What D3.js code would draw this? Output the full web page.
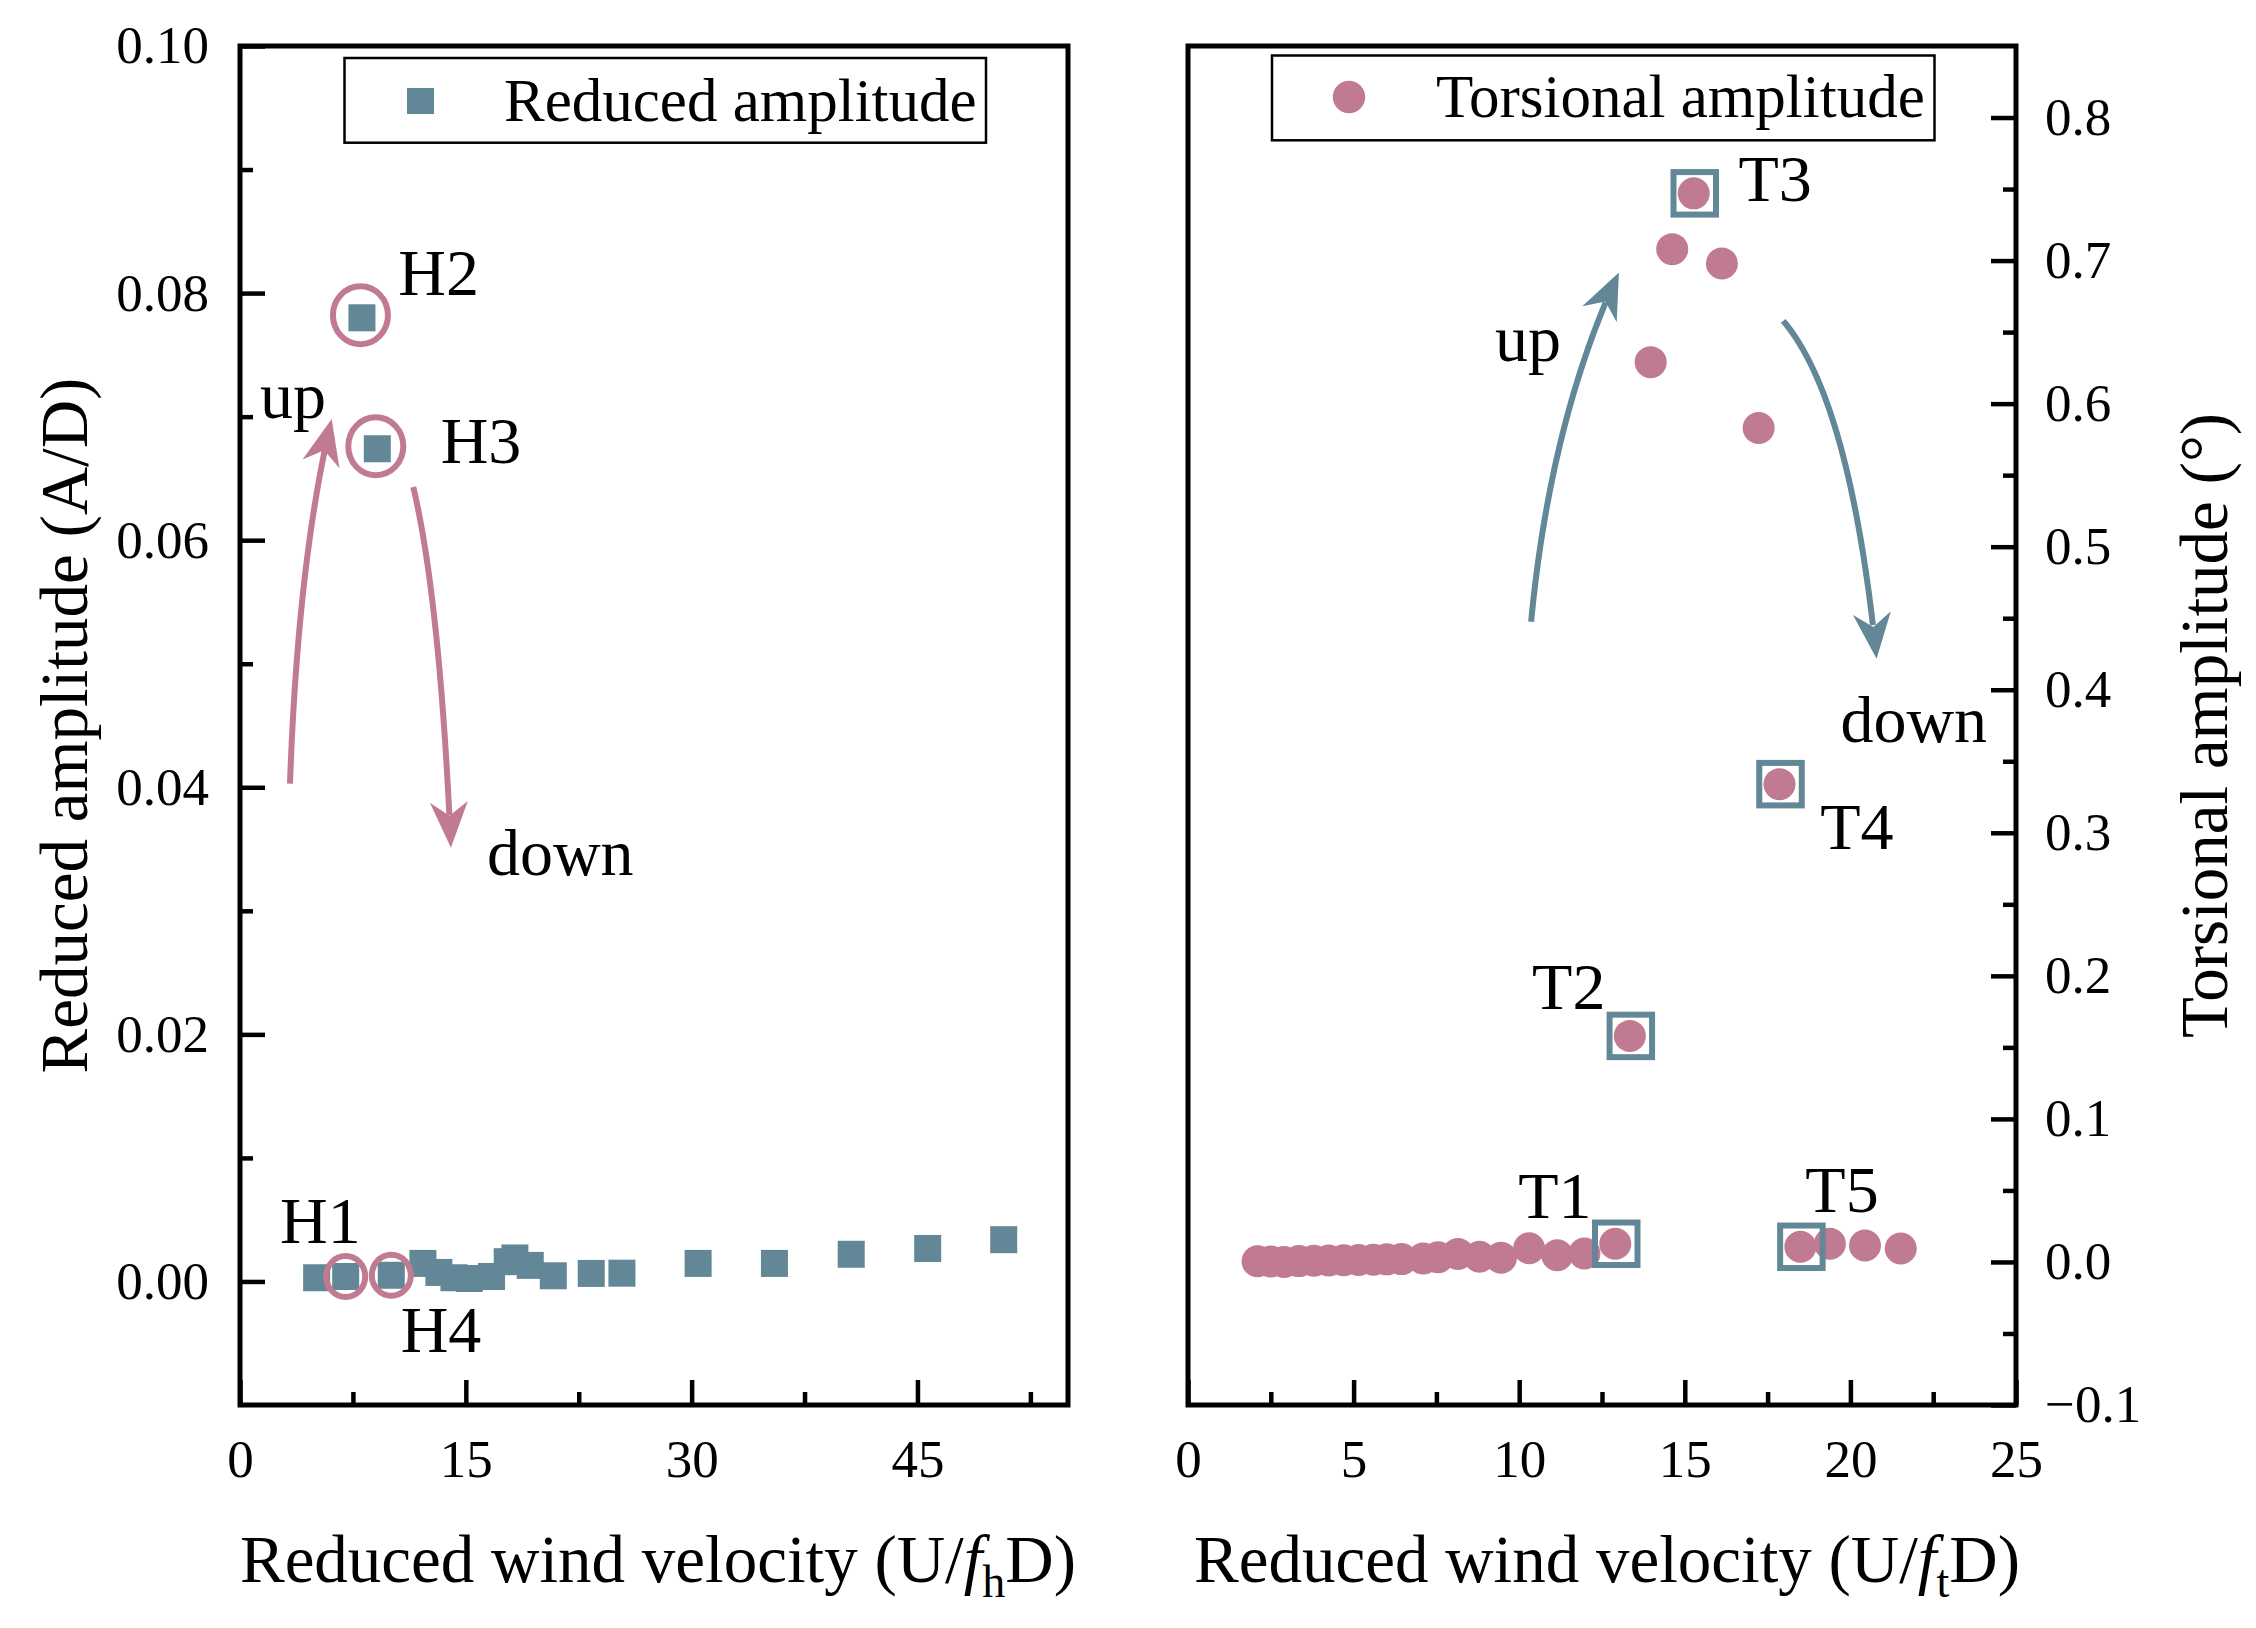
<!DOCTYPE html>
<html><head><meta charset="utf-8">
<script src="https://cdn.jsdelivr.net/npm/d3@7"></script>
<style>
body{margin:0;background:#fff}
svg{display:block}
text{font-family:"Liberation Serif","Times New Roman",serif;fill:#000}
</style>
</head><body>
<script>
// ---------------- data ----------------
const heaveVelocity  = [5.09, 7.02, 8.10, 9.12, 10.05, 12.15, 13.21, 14.21, 15.23, 16.71, 17.75, 18.26, 19.28, 20.81, 23.33, 25.37, 30.43, 35.5, 40.6, 45.68, 50.73];
const heaveAmplitude = [0.0003, 0.0004, 0.0780, 0.0674, 0.0005, 0.00146, 0.00073, 0.0003, 0.00024, 0.0004, 0.0016, 0.0019, 0.0013, 0.00046, 0.00065, 0.00067, 0.00146, 0.00146, 0.0022, 0.00267, 0.00338];

const torsionVelocity  = [2.1, 2.5, 2.9, 3.35, 3.8, 4.25, 4.7, 5.15, 5.6, 6.0, 6.45, 7.1, 7.55, 8.15, 8.8, 9.45, 10.3, 11.15, 11.97, 12.9, 13.34, 13.97, 14.62, 15.27, 16.12, 17.23, 17.86, 18.49, 19.38, 20.44, 21.52];
const torsionAmplitude = [0.0005, 0.0003, 0.0, 0.0006, 0.0008, 0.001, 0.0012, 0.0014, 0.0016, 0.0018, 0.002, 0.0024, 0.0033, 0.0056, 0.0036, 0.0030, 0.0096, 0.0047, 0.0059, 0.0127, 0.158, 0.629, 0.708, 0.747, 0.698, 0.583, 0.334, 0.0106, 0.0127, 0.0115, 0.0094];

const heaveMarked   = [{name:"H1", index:1, big:false}, {name:"H2", index:2, big:true}, {name:"H3", index:3, big:true}, {name:"H4", index:4, big:false}];
const torsionMarked = [{name:"T1", index:19}, {name:"T2", index:20}, {name:"T3", index:23}, {name:"T4", index:26}, {name:"T5", index:27}];

const heaveNotes = [
  {text:"H1", x:2.66, y:0.00308}, {text:"H4", x:10.67, y:-0.00567},
  {text:"H2", x:10.51, y:0.07984}, {text:"H3", x:13.33, y:0.06621},
  {text:"up", x:1.33, y:0.0699}, {text:"down", x:16.4, y:0.0329}
];
const torsionNotes = [
  {text:"T3", x:16.62, y:0.7417}, {text:"T4", x:19.09, y:0.2889},
  {text:"T2", x:10.39, y:0.1771}, {text:"T1", x:9.97, y:0.0310},
  {text:"T5", x:18.64, y:0.0352}, {text:"up", x:9.27, y:0.6299},
  {text:"down", x:19.70, y:0.3637}
];
const heaveArrows = [
  {from:[3.32, 0.0403], via:[3.85, 0.0584], to:[6.09, 0.0698]},
  {from:[11.51, 0.0643], via:[13.28, 0.0552], to:[14.01, 0.0351]}
];
const torsionArrows = [
  {from:[10.36, 0.4475], via:[10.94, 0.5887], to:[13.01, 0.6917]},
  {from:[17.97, 0.6579], via:[20.0, 0.6027], to:[20.79, 0.4216]}
];

const leftXMajor = [0, 15, 30, 45];
const leftXMinor = [7.5, 22.5, 37.5, 52.5];
const leftYMajor = [0, 0.02, 0.04, 0.06, 0.08, 0.10];
const leftYMinor = [0.01, 0.03, 0.05, 0.07, 0.09];
const rightXMajor = [0, 5, 10, 15, 20, 25];
const rightXMinor = [2.5, 7.5, 12.5, 17.5, 22.5];
const rightYMajor = [-0.1, 0, 0.1, 0.2, 0.3, 0.4, 0.5, 0.6, 0.7, 0.8];
const rightYMinor = [-0.05, 0.05, 0.15, 0.25, 0.35, 0.45, 0.55, 0.65, 0.75];

// ---------------- style ----------------
const BLUE = "#628796", PINK = "#c07b93";
const W = 2256, H = 1628;
const TICK_FS = 53, TITLE_FS = 67, NOTE_FS = 66, LEG_FS = 61;

const svg = d3.select("body").append("svg").attr("width", W).attr("height", H)
  .attr("viewBox", `0 0 ${W} ${H}`);
svg.append("rect").attr("width", W).attr("height", H).attr("fill", "#fff");

const plotTop = 46, plotBottom = 1405;
const xL = d3.scaleLinear([0, 55], [240, 1068]);
const yL = d3.scaleLinear([-0.01, 0.10], [plotBottom, plotTop]);
const xR = d3.scaleLinear([0, 25], [1188, 2016]);
const yR = d3.scaleLinear([-0.1, 0.85], [plotBottom, plotTop]);

function styleAxis(g, w) {
  g.select(".domain").remove();
  g.selectAll(".tick line").attr("stroke", "#000").attr("stroke-width", w);
  g.selectAll(".tick text").attr("font-size", TICK_FS)
    .attr("font-family", '"Liberation Serif","Times New Roman",serif').attr("fill", "#000");
}

function drawAxes(x, y, xMaj, xMin, yMaj, yMin, ySide, yFmt) {
  const gx = svg.append("g").attr("transform", `translate(0,${plotBottom})`)
    .call(d3.axisBottom(x).tickValues(xMaj).tickSize(-25).tickPadding(34).tickFormat(d3.format("d")));
  styleAxis(gx, 4.5);
  const gx2 = svg.append("g").attr("transform", `translate(0,${plotBottom})`)
    .call(d3.axisBottom(x).tickValues(xMin).tickSize(-13).tickFormat(""));
  styleAxis(gx2, 4.5);
  const xPos = ySide === "left" ? x.range()[0] : x.range()[1];
  const axisMaker = ySide === "left" ? d3.axisLeft : d3.axisRight;
  const gy = svg.append("g").attr("transform", `translate(${xPos},0)`)
    .call(axisMaker(y).tickValues(yMaj).tickSize(-25).tickPadding(ySide === "left" ? 31 : 29).tickFormat(yFmt));
  styleAxis(gy, 4.5);
  const gy2 = svg.append("g").attr("transform", `translate(${xPos},0)`)
    .call(axisMaker(y).tickValues(yMin).tickSize(-13).tickFormat(""));
  styleAxis(gy2, 4.5);
  svg.append("rect")
    .attr("x", x.range()[0]).attr("y", plotTop)
    .attr("width", x.range()[1] - x.range()[0]).attr("height", plotBottom - plotTop)
    .attr("fill", "none").attr("stroke", "#000").attr("stroke-width", 5);
}

function quad(p0, c, p2, t) {
  const u = 1 - t;
  return [u*u*p0[0] + 2*u*t*c[0] + t*t*p2[0], u*u*p0[1] + 2*u*t*c[1] + t*t*p2[1]];
}

function drawArrow(a, x, y, color) {
  const p0 = [x(a.from[0]), y(a.from[1])];
  const c  = [x(a.via[0]),  y(a.via[1])];
  const p2 = [x(a.to[0]),   y(a.to[1])];
  const pts = [];
  for (let i = 0; i <= 60; i++) {
    const p = quad(p0, c, p2, i / 60);
    if (Math.hypot(p[0] - p2[0], p[1] - p2[1]) < 28) break;
    pts.push(p);
  }
  svg.append("path").attr("d", d3.line()(pts))
    .attr("fill", "none").attr("stroke", color).attr("stroke-width", 6);
  let dx = p2[0] - c[0], dy = p2[1] - c[1];
  const len = Math.hypot(dx, dy); dx /= len; dy /= len;
  const nx = -dy, ny = dx;
  const L = 46, Wd = 19, N = 14;
  const head = [
    p2,
    [p2[0] - dx*L + nx*Wd, p2[1] - dy*L + ny*Wd],
    [p2[0] - dx*(L-N), p2[1] - dy*(L-N)],
    [p2[0] - dx*L - nx*Wd, p2[1] - dy*L - ny*Wd]
  ];
  svg.append("path").attr("d", "M" + head.map(p => p.join(",")).join("L") + "Z")
    .attr("fill", color).attr("stroke", "none");
}

function notes(list, x, y) {
  svg.append("g").selectAll("text").data(list).join("text")
    .attr("x", d => x(d.x)).attr("y", d => y(d.y))
    .attr("font-size", NOTE_FS).text(d => d.text);
}

// ---------------- left panel ----------------
drawAxes(xL, yL, leftXMajor, leftXMinor, leftYMajor, leftYMinor, "left", d3.format(".2f"));

const SQ = 27;
svg.append("g").selectAll("rect").data(heaveVelocity.map((v, i) => [v, heaveAmplitude[i]])).join("rect")
  .attr("x", d => xL(d[0]) - SQ/2).attr("y", d => yL(d[1]) - SQ/2)
  .attr("width", SQ).attr("height", SQ).attr("fill", BLUE);

svg.append("g").selectAll("ellipse").data(heaveMarked).join("ellipse")
  .attr("cx", d => xL(heaveVelocity[d.index]) - (d.big ? 1.5 : 0))
  .attr("cy", d => yL(heaveAmplitude[d.index]) - (d.big ? 2.5 : 0))
  .attr("rx", d => d.big ? 27.5 : 19.5).attr("ry", d => d.big ? 29 : 20.5)
  .attr("fill", "none").attr("stroke", PINK).attr("stroke-width", 6);

heaveArrows.forEach(a => drawArrow(a, xL, yL, PINK));
notes(heaveNotes, xL, yL);

svg.append("rect").attr("x", 344.5).attr("y", 58).attr("width", 641.5).attr("height", 84.7)
  .attr("fill", "#fff").attr("stroke", "#000").attr("stroke-width", 2.5);
svg.append("rect").attr("x", 407).attr("y", 88).attr("width", 27).attr("height", 26).attr("fill", BLUE);
svg.append("text").attr("x", 504).attr("y", 120.5).attr("font-size", LEG_FS).text("Reduced amplitude");

svg.append("text").attr("transform", `translate(87,${(plotTop + plotBottom) / 2}) rotate(-90)`)
  .attr("text-anchor", "middle").attr("font-size", TITLE_FS).text("Reduced amplitude (A/D)");

function xTitle(cx, sub) {
  const t = svg.append("text").attr("x", cx).attr("y", 1582).attr("text-anchor", "middle")
    .attr("font-size", TITLE_FS);
  t.append("tspan").text("Reduced wind velocity (U/");
  t.append("tspan").attr("font-style", "italic").text("f");
  t.append("tspan").attr("font-size", 46).attr("dy", 15).text(sub);
  t.append("tspan").attr("dy", -15).text("D)");
}
xTitle(658, "h");

// ---------------- right panel ----------------
drawAxes(xR, yR, rightXMajor, rightXMinor, rightYMajor, rightYMinor, "right",
  d => (d < 0 ? "\u2212" : "") + Math.abs(d).toFixed(1));

const CR = 16;
svg.append("g").selectAll("circle").data(torsionVelocity.map((v, i) => [v, torsionAmplitude[i]])).join("circle")
  .attr("cx", d => xR(d[0])).attr("cy", d => yR(d[1])).attr("r", CR).attr("fill", PINK);

const BOX = 42.5;
svg.append("g").selectAll("rect").data(torsionMarked).join("rect")
  .attr("x", d => xR(torsionVelocity[d.index]) - BOX/2 + 1)
  .attr("y", d => yR(torsionAmplitude[d.index]) - BOX/2)
  .attr("width", BOX).attr("height", BOX)
  .attr("fill", "none").attr("stroke", BLUE).attr("stroke-width", 6);

torsionArrows.forEach(a => drawArrow(a, xR, yR, BLUE));
notes(torsionNotes, xR, yR);

svg.append("rect").attr("x", 1272).attr("y", 55.5).attr("width", 662.5).attr("height", 84.8)
  .attr("fill", "#fff").attr("stroke", "#000").attr("stroke-width", 2.5);
svg.append("circle").attr("cx", 1349).attr("cy", 97).attr("r", 16.2).attr("fill", PINK);
svg.append("text").attr("x", 1436).attr("y", 117).attr("font-size", LEG_FS).text("Torsional amplitude");

svg.append("text").attr("transform", `translate(2227,${(plotTop + plotBottom) / 2}) rotate(-90)`)
  .attr("text-anchor", "middle").attr("font-size", TITLE_FS).text("Torsional amplitude (\u00b0)");
xTitle(1607, "t");
</script>
</body></html>
